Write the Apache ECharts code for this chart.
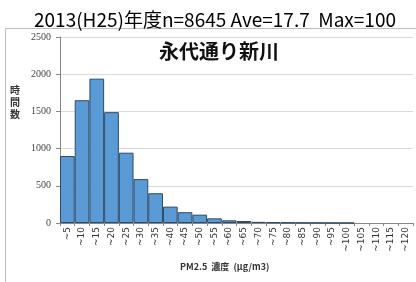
<!DOCTYPE html>
<html>
<head>
<meta charset="utf-8">
<script src="https://cdn.jsdelivr.net/npm/echarts@6/dist/echarts.min.js"></script>
<style>
  html, body { margin: 0; padding: 0; background: #fff; }
  #chart { width: 416px; height: 282px; }
</style>
</head>
<body>
<div id="chart"></div>
<script>
// 濃度区分 (PM2.5, μg/m3)
const categories = ['~5', '~10', '~15', '~20', '~25', '~30', '~35', '~40', '~45', '~50',
  '~55', '~60', '~65', '~70', '~75', '~80', '~85', '~90', '~95', '~100',
  '~105', '~110', '~115', '~120'];

// 時間数
const hours = [900, 1650, 1940, 1490, 945, 590, 400, 220, 145, 112,
  63, 36, 27, 15, 10, 6, 4, 3, 2, 1,
  0, 0, 0, 0];

const yTicks = [0, 500, 1000, 1500, 2000, 2500];

const chart = echarts.init(document.getElementById('chart'));

const option = {
  animation: false,
  title: [
    {
      text: '2013(H25)年度n=8645 Ave=17.7  Max=100',
      left: 29,
      top: 5,
      textStyle: { fontSize: 19, fontWeight: 'normal', color: '#000', fontFamily: 'Noto Sans CJK JP' }
    },
    {
      text: '永代通り新川',
      left: 154,
      top: 36,
      textStyle: { fontSize: 20, fontWeight: 'bold', color: '#111', fontFamily: 'Noto Sans CJK JP' }
    }
  ],
  graphic: [
    {
      type: 'rect',
      shape: { x: 5.5, y: 28.5, width: 420, height: 260 },
      style: { fill: 'none', stroke: '#bdbdbd', lineWidth: 1 },
      silent: true
    },
    {
      type: 'text',
      left: 10,
      top: 84,
      style: {
        text: '時\n間\n数',
        font: 'bold 10px "Noto Sans CJK JP"',
        fill: '#333',
        lineHeight: 12
      }
    },
    {
      type: 'text',
      left: 180,
      top: 262,
      style: {
        text: 'PM2.5  濃度  (μg/m3)',
        font: 'bold 9px "Noto Sans CJK JP"',
        fill: '#333'
      }
    }
  ],
  grid: { left: 60, right: 3, top: 37, bottom: 59, outerBoundsMode: 'none' },
  xAxis: {
    type: 'category',
    data: categories,
    axisLine: { lineStyle: { color: '#888' } },
    axisTick: { show: true, lineStyle: { color: '#888' }, length: 3 },
    axisLabel: { rotate: 90, fontSize: 9, color: '#333', margin: 4, interval: 0, fontFamily: 'DejaVu Sans' }
  },
  yAxis: {
    type: 'value',
    min: yTicks[0],
    max: yTicks[yTicks.length - 1],
    interval: 500,
    axisLine: { show: true, lineStyle: { color: '#888' } },
    axisTick: { show: true, lineStyle: { color: '#888' }, length: 4 },
    splitLine: { lineStyle: { color: '#d9d9d9' } },
    axisLabel: {
      fontSize: 10, color: '#444', margin: 9, fontFamily: 'Liberation Serif',
      formatter: v => String(v)
    }
  },
  series: [
    {
      type: 'bar',
      data: hours.map(v => (v === 0 ? null : v)),
      barCategoryGap: '0%',
      itemStyle: { color: '#5b9bd5', borderColor: '#2e4a66', borderWidth: 1 }
    }
  ]
};

chart.setOption(option);
</script>
</body>
</html>
